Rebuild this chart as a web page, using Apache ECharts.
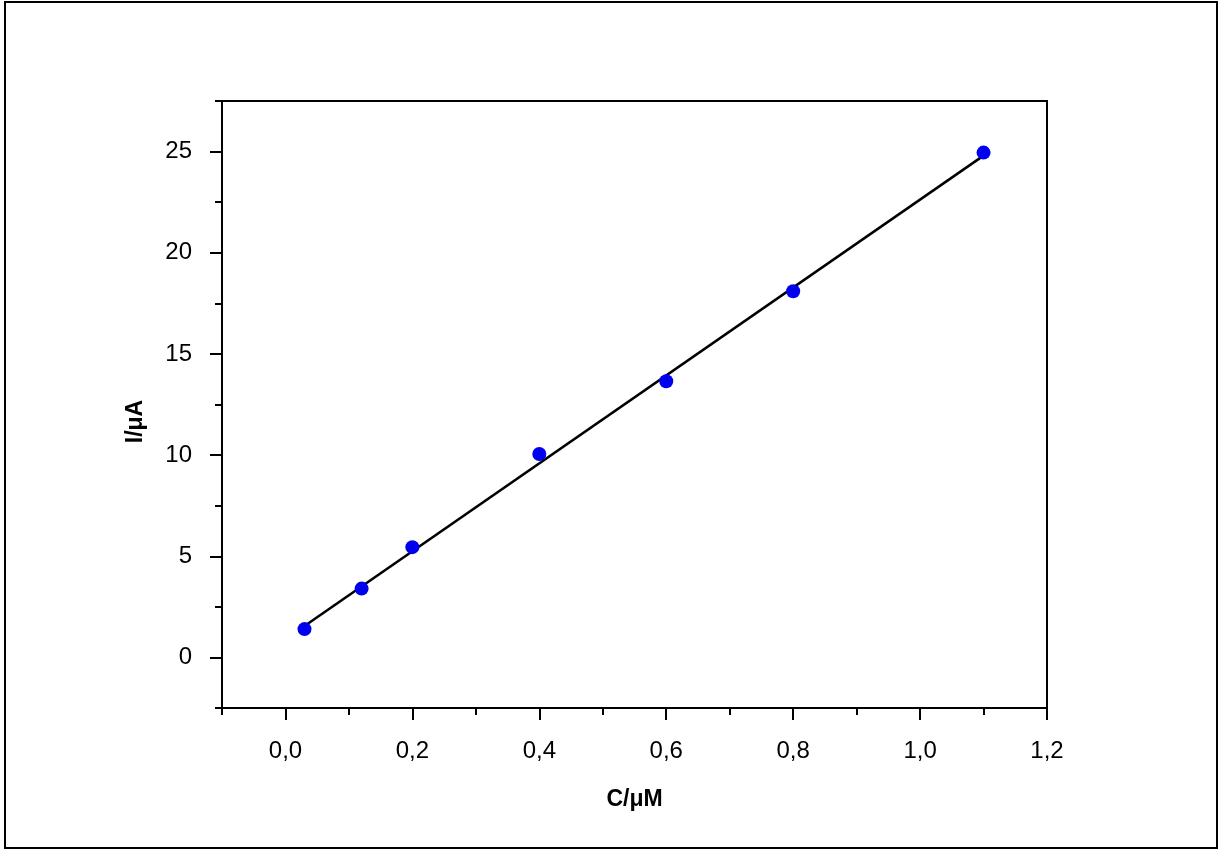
<!DOCTYPE html>
<html>
<head>
<meta charset="utf-8">
<script src="https://cdn.jsdelivr.net/npm/echarts@6/dist/echarts.min.js"></script>
<style>
html,body{margin:0;padding:0;background:#fff;}
#chart{width:1224px;height:850px;}
</style>
</head>
<body>
<div id="chart"></div>
<script>
// Data
const concX = [0.03, 0.12, 0.2, 0.4, 0.6, 0.8, 1.1];
const currentY = [1.4, 3.4, 5.45, 10.05, 13.65, 18.1, 24.95];
const fitX = [0.03, 1.1];
const fitY = [1.55, 24.8];
const xMajorTicks = [0, 0.2, 0.4, 0.6, 0.8, 1.0, 1.2];
const xMinorTicks = [-0.1, 0.1, 0.3, 0.5, 0.7, 0.9, 1.1];
const yMajorTicks = [0, 5, 10, 15, 20, 25];
const yMinorTicks = [-2.5, 2.5, 7.5, 12.5, 17.5, 22.5, 27.5];
const xName = 'C/\u03bcM';
const yName = 'I/\u03bcA';

const font = 'Liberation Sans, Arial, sans-serif';
const chart = echarts.init(document.getElementById('chart'));

const pts = concX.map((x, i) => [x, currentY[i]]);
const fit = fitX.map((x, i) => [x, fitY[i]]);

chart.setOption({
  animation: false,
  backgroundColor: '#fff',
  grid: {left: 222, top: 101, right: 177, bottom: 142, containLabel: false,
    show: true, borderColor: '#000', borderWidth: 2, backgroundColor: 'transparent'},
  xAxis: [{
    type: 'value', min: -0.1, max: 1.2, position: 'bottom',
    name: xName, nameLocation: 'middle', nameGap: 80,
    nameTextStyle: {fontFamily: font, fontSize: 23, fontWeight: 'bold', color: '#000'},
    axisLine: {show: true, onZero: false, lineStyle: {color: '#000', width: 2}},
    axisTick: {show: true, inside: false, length: 12, customValues: xMajorTicks, lineStyle: {color: '#000', width: 2}},
    axisLabel: {show: true, customValues: xMajorTicks, margin: 31, fontFamily: font, fontSize: 24, color: '#000',
      formatter: v => v.toFixed(1).replace('.', ',')},
    splitLine: {show: false}
  }, {
    type: 'value', min: -0.1, max: 1.2, position: 'bottom',
    axisLine: {show: false, onZero: false},
    axisTick: {show: true, inside: false, length: 7, customValues: xMinorTicks, lineStyle: {color: '#000', width: 2}},
    axisLabel: {show: false},
    splitLine: {show: false}
  }],
  yAxis: [{
    type: 'value', min: -2.5, max: 27.5, position: 'left',
    name: yName, nameLocation: 'middle', nameGap: 75, nameRotate: 90,
    nameTextStyle: {fontFamily: font, fontSize: 23, fontWeight: 'bold', color: '#000', padding: [0, 34, 0, 0]},
    axisLine: {show: true, onZero: false, lineStyle: {color: '#000', width: 2}},
    axisTick: {show: true, inside: false, length: 12, customValues: yMajorTicks, lineStyle: {color: '#000', width: 2}},
    axisLabel: {show: true, customValues: yMajorTicks, margin: 30, fontFamily: font, fontSize: 24, color: '#000'},
    splitLine: {show: false}
  }, {
    type: 'value', min: -2.5, max: 27.5, position: 'left',
    axisLine: {show: false, onZero: false},
    axisTick: {show: true, inside: false, length: 7, customValues: yMinorTicks, lineStyle: {color: '#000', width: 2}},
    axisLabel: {show: false},
    splitLine: {show: false}
  }],
  graphic: [{
    type: 'rect', shape: {x: 5, y: 2, width: 1212, height: 846},
    style: {fill: 'none', stroke: '#000', lineWidth: 2}, silent: true, z: 100
  }],
  series: [{
    type: 'line', data: fit, xAxisIndex: 0, yAxisIndex: 0,
    showSymbol: false, symbol: 'none',
    lineStyle: {color: '#000', width: 2.5}, z: 2
  }, {
    type: 'scatter', data: pts, xAxisIndex: 0, yAxisIndex: 0,
    symbol: 'circle', symbolSize: 14,
    itemStyle: {color: '#0000ee', opacity: 1}, z: 3
  }]
});
</script>
</body>
</html>
